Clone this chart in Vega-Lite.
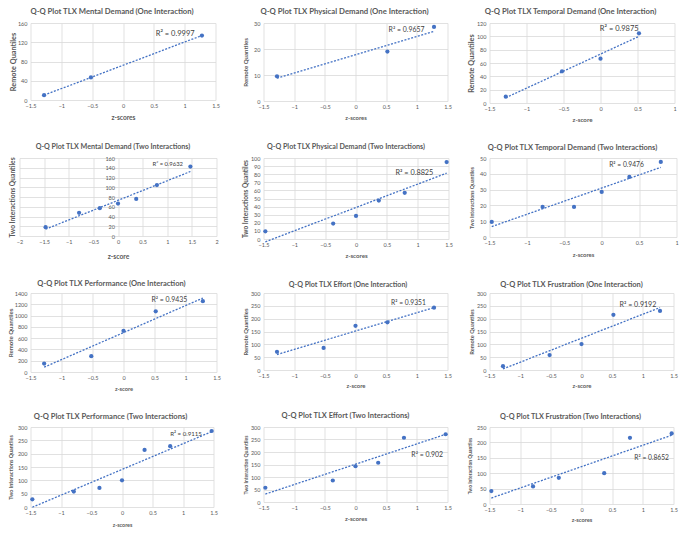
{
"$schema": "https://vega.github.io/schema/vega-lite/v6.json",
"background": "white",
"padding": {"left": 7.5, "top": 8, "right": 0, "bottom": 0},
"columns": 3,
"spacing": {"row": 20, "column": 15},
"concat": [
 {"width": 185, "height": 77,
  "title": {"text": "Q-Q Plot TLX Mental Demand  (One Interaction)", "fontSize": 7.7, "dx": -11, "offset": 5.15},
  "data": {"values": [{"z": -1.28, "q": 10}, {"z": -0.52, "q": 47}, {"z": 1.28, "q": 134}]},
  "layer": [
   {"transform": [{"regression": "q", "on": "z"}], "mark": {"type": "line", "strokeDash": [2, 1.5], "strokeWidth": 1.3, "color": "#4472C4"}, "encoding": {
    "x": {"field": "z", "type": "quantitative", "scale": {"domain": [-1.5, 1.5], "nice": false, "zero": false}, "axis": {"values": [-1.5, -1, -0.5, 0, 0.5, 1, 1.5], "format": ".1~f", "title": "z-scores", "titleFontSize": 6.6, "titleY": 17.3}},
    "y": {"field": "q", "type": "quantitative", "scale": {"domain": [0, 160], "nice": false}, "axis": {"values": [0, 40, 80, 120, 160], "format": "d", "title": "Remote Quantiles", "titleFontSize": 7.3, "titleX": -17.3}}}},
   {"mark": {"type": "circle", "size": 18, "color": "#4472C4", "opacity": 1}, "encoding": {
    "x": {"field": "z", "type": "quantitative", "scale": {"domain": [-1.5, 1.5], "nice": false, "zero": false}, "axis": {"values": [-1.5, -1, -0.5, 0, 0.5, 1, 1.5], "format": ".1~f", "title": "z-scores", "titleFontSize": 6.6, "titleY": 17.3}},
    "y": {"field": "q", "type": "quantitative", "scale": {"domain": [0, 160], "nice": false}, "axis": {"values": [0, 40, 80, 120, 160], "format": "d", "title": "Remote Quantiles", "titleFontSize": 7.3, "titleX": -17.3}}}},
   {"data": {"values": [{"t": "R² = 0.9997"}]}, "mark": {"type": "text", "align": "left", "baseline": "middle", "fontSize": 7.5, "color": "#404040"}, "encoding": {
    "x": {"datum": 0.53, "type": "quantitative", "scale": {"domain": [-1.5, 1.5], "nice": false, "zero": false}, "axis": {"values": [-1.5, -1, -0.5, 0, 0.5, 1, 1.5], "format": ".1~f", "title": "z-scores", "titleFontSize": 6.6, "titleY": 17.3}},
    "y": {"datum": 138, "type": "quantitative", "scale": {"domain": [0, 160], "nice": false}, "axis": {"values": [0, 40, 80, 120, 160], "format": "d", "title": "Remote Quantiles", "titleFontSize": 7.3, "titleX": -17.3}},
    "text": {"field": "t", "type": "nominal"}}}
  ]},
 {"width": 184, "height": 78,
  "title": {"text": "Q-Q Plot TLX Physical Demand (One Interaction)", "fontSize": 7.75, "dx": -11, "offset": 5.1},
  "data": {"values": [{"z": -1.28, "q": 9.5}, {"z": 0.52, "q": 19}, {"z": 1.28, "q": 28.5}]},
  "layer": [
   {"transform": [{"regression": "q", "on": "z"}], "mark": {"type": "line", "strokeDash": [2, 1.5], "strokeWidth": 1.3, "color": "#4472C4"}, "encoding": {
    "x": {"field": "z", "type": "quantitative", "scale": {"domain": [-1.5, 1.5], "nice": false, "zero": false}, "axis": {"values": [-1.5, -1, -0.5, 0, 0.5, 1, 1.5], "format": ".1~f", "title": "z-scores", "titleFontSize": 5.9, "titleY": 16.3}},
    "y": {"field": "q", "type": "quantitative", "scale": {"domain": [0, 30], "nice": false}, "axis": {"values": [0, 10, 20, 30], "format": "d", "title": "Remote Quantiles", "titleFontSize": 6.1, "titleX": -18}}}},
   {"mark": {"type": "circle", "size": 18, "color": "#4472C4", "opacity": 1}, "encoding": {
    "x": {"field": "z", "type": "quantitative", "scale": {"domain": [-1.5, 1.5], "nice": false, "zero": false}, "axis": {"values": [-1.5, -1, -0.5, 0, 0.5, 1, 1.5], "format": ".1~f", "title": "z-scores", "titleFontSize": 5.9, "titleY": 16.3}},
    "y": {"field": "q", "type": "quantitative", "scale": {"domain": [0, 30], "nice": false}, "axis": {"values": [0, 10, 20, 30], "format": "d", "title": "Remote Quantiles", "titleFontSize": 6.1, "titleX": -18}}}},
   {"data": {"values": [{"t": "R² = 0.9657"}]}, "mark": {"type": "text", "align": "left", "baseline": "middle", "fontSize": 6.9, "color": "#404040"}, "encoding": {
    "x": {"datum": 0.54, "type": "quantitative", "scale": {"domain": [-1.5, 1.5], "nice": false, "zero": false}, "axis": {"values": [-1.5, -1, -0.5, 0, 0.5, 1, 1.5], "format": ".1~f", "title": "z-scores", "titleFontSize": 5.9, "titleY": 16.3}},
    "y": {"datum": 27.3, "type": "quantitative", "scale": {"domain": [0, 30], "nice": false}, "axis": {"values": [0, 10, 20, 30], "format": "d", "title": "Remote Quantiles", "titleFontSize": 6.1, "titleX": -18}},
    "text": {"field": "t", "type": "nominal"}}}
  ]},
 {"width": 185, "height": 80,
  "title": {"text": "Q-Q Plot TLX Temporal Demand (One Interaction)", "fontSize": 7.75, "dx": -11.5, "offset": 5.1},
  "data": {"values": [{"z": -1.28, "q": 9.5}, {"z": -0.52, "q": 47.5}, {"z": 0, "q": 66.5}, {"z": 0.52, "q": 104.5}]},
  "layer": [
   {"transform": [{"regression": "q", "on": "z"}], "mark": {"type": "line", "strokeDash": [2, 1.5], "strokeWidth": 1.3, "color": "#4472C4"}, "encoding": {
    "x": {"field": "z", "type": "quantitative", "scale": {"domain": [-1.5, 1], "nice": false, "zero": false}, "axis": {"values": [-1.5, -1, -0.5, 0, 0.5, 1], "format": ".1~f", "title": "z-score", "titleFontSize": 6.2, "titleY": 16}},
    "y": {"field": "q", "type": "quantitative", "scale": {"domain": [0, 120], "nice": false}, "axis": {"values": [0, 20, 40, 60, 80, 100, 120], "format": "d", "title": "Remote Quantiles", "titleFontSize": 7.3, "titleX": -18}}}},
   {"mark": {"type": "circle", "size": 18, "color": "#4472C4", "opacity": 1}, "encoding": {
    "x": {"field": "z", "type": "quantitative", "scale": {"domain": [-1.5, 1], "nice": false, "zero": false}, "axis": {"values": [-1.5, -1, -0.5, 0, 0.5, 1], "format": ".1~f", "title": "z-score", "titleFontSize": 6.2, "titleY": 16}},
    "y": {"field": "q", "type": "quantitative", "scale": {"domain": [0, 120], "nice": false}, "axis": {"values": [0, 20, 40, 60, 80, 100, 120], "format": "d", "title": "Remote Quantiles", "titleFontSize": 7.3, "titleX": -18}}}},
   {"data": {"values": [{"t": "R² = 0.9875"}]}, "mark": {"type": "text", "align": "left", "baseline": "middle", "fontSize": 7.5, "color": "#404040"}, "encoding": {
    "x": {"datum": -0.01, "type": "quantitative", "scale": {"domain": [-1.5, 1], "nice": false, "zero": false}, "axis": {"values": [-1.5, -1, -0.5, 0, 0.5, 1], "format": ".1~f", "title": "z-score", "titleFontSize": 6.2, "titleY": 16}},
    "y": {"datum": 111, "type": "quantitative", "scale": {"domain": [0, 120], "nice": false}, "axis": {"values": [0, 20, 40, 60, 80, 100, 120], "format": "d", "title": "Remote Quantiles", "titleFontSize": 7.3, "titleX": -18}},
    "text": {"field": "t", "type": "nominal"}}}
  ]},
 {"width": 186, "height": 78,
  "title": {"text": "Q-Q Plot TLX Mental Demand (Two Interactions)", "fontSize": 7.15, "dx": -10.5, "offset": 5.4},
  "data": {"values": [{"z": -1.47, "q": 18}, {"z": -0.79, "q": 47.5}, {"z": -0.37, "q": 57}, {"z": 0, "q": 66.5}, {"z": 0.37, "q": 76}, {"z": 0.79, "q": 104.5}, {"z": 1.47, "q": 142.5}]},
  "layer": [
   {"transform": [{"regression": "q", "on": "z"}], "mark": {"type": "line", "strokeDash": [2, 1.5], "strokeWidth": 1.3, "color": "#4472C4"}, "encoding": {
    "x": {"field": "z", "type": "quantitative", "scale": {"domain": [-2, 2], "nice": false, "zero": false, "range": [-11, 186]}, "axis": {"values": [-2, -1.5, -1, -0.5, 0, 0.5, 1, 1.5, 2], "format": ".1~f", "title": "z-score", "titleFontSize": 6.7, "titleY": 20}},
    "y": {"field": "q", "type": "quantitative", "scale": {"domain": [0, 160], "nice": false}, "axis": {"values": [0, 20, 40, 60, 80, 100, 120, 140, 160], "format": "d", "title": "Two Interactions Quantiles", "titleFontSize": 6.7, "offset": -87.5, "titleX": -105.5}}}},
   {"mark": {"type": "circle", "size": 18, "color": "#4472C4", "opacity": 1}, "encoding": {
    "x": {"field": "z", "type": "quantitative", "scale": {"domain": [-2, 2], "nice": false, "zero": false, "range": [-11, 186]}, "axis": {"values": [-2, -1.5, -1, -0.5, 0, 0.5, 1, 1.5, 2], "format": ".1~f", "title": "z-score", "titleFontSize": 6.7, "titleY": 20}},
    "y": {"field": "q", "type": "quantitative", "scale": {"domain": [0, 160], "nice": false}, "axis": {"values": [0, 20, 40, 60, 80, 100, 120, 140, 160], "format": "d", "title": "Two Interactions Quantiles", "titleFontSize": 6.7, "offset": -87.5, "titleX": -105.5}}}},
   {"data": {"values": [{"t": "R² = 0.9632"}]}, "mark": {"type": "text", "align": "left", "baseline": "middle", "fontSize": 5.9, "color": "#404040"}, "encoding": {
    "x": {"datum": 0.7, "type": "quantitative", "scale": {"domain": [-2, 2], "nice": false, "zero": false, "range": [-11, 186]}, "axis": {"values": [-2, -1.5, -1, -0.5, 0, 0.5, 1, 1.5, 2], "format": ".1~f", "title": "z-score", "titleFontSize": 6.7, "titleY": 20}},
    "y": {"datum": 148, "type": "quantitative", "scale": {"domain": [0, 160], "nice": false}, "axis": {"values": [0, 20, 40, 60, 80, 100, 120, 140, 160], "format": "d", "title": "Two Interactions Quantiles", "titleFontSize": 6.7, "offset": -87.5, "titleX": -105.5}},
    "text": {"field": "t", "type": "nominal"}}}
  ]},
 {"width": 185, "height": 81,
  "title": {"text": "Q-Q Plot TLX Physical Demand (Two Interactions)", "fontSize": 7.15, "dx": -10, "offset": 5.4},
  "data": {"values": [{"z": -1.47, "q": 9.5}, {"z": -0.37, "q": 19}, {"z": 0, "q": 28.5}, {"z": 0.37, "q": 47.5}, {"z": 0.79, "q": 57}, {"z": 1.47, "q": 95}]},
  "layer": [
   {"transform": [{"regression": "q", "on": "z"}], "mark": {"type": "line", "strokeDash": [2, 1.5], "strokeWidth": 1.3, "color": "#4472C4"}, "encoding": {
    "x": {"field": "z", "type": "quantitative", "scale": {"domain": [-1.5, 1.5], "nice": false, "zero": false}, "axis": {"values": [-1.5, -1, -0.5, 0, 0.5, 1, 1.5], "format": ".1~f", "title": "z-scores", "titleFontSize": 6.1, "titleY": 16.3}},
    "y": {"field": "q", "type": "quantitative", "scale": {"domain": [0, 100], "nice": false}, "axis": {"values": [0, 10, 20, 30, 40, 50, 60, 70, 80, 90, 100], "format": "d", "title": "Two Interactions Quantiles", "titleFontSize": 6.5, "titleX": -18}}}},
   {"mark": {"type": "circle", "size": 18, "color": "#4472C4", "opacity": 1}, "encoding": {
    "x": {"field": "z", "type": "quantitative", "scale": {"domain": [-1.5, 1.5], "nice": false, "zero": false}, "axis": {"values": [-1.5, -1, -0.5, 0, 0.5, 1, 1.5], "format": ".1~f", "title": "z-scores", "titleFontSize": 6.1, "titleY": 16.3}},
    "y": {"field": "q", "type": "quantitative", "scale": {"domain": [0, 100], "nice": false}, "axis": {"values": [0, 10, 20, 30, 40, 50, 60, 70, 80, 90, 100], "format": "d", "title": "Two Interactions Quantiles", "titleFontSize": 6.5, "titleX": -18}}}},
   {"data": {"values": [{"t": "R² = 0.8825"}]}, "mark": {"type": "text", "align": "left", "baseline": "middle", "fontSize": 7.3, "color": "#404040"}, "encoding": {
    "x": {"datum": 0.64, "type": "quantitative", "scale": {"domain": [-1.5, 1.5], "nice": false, "zero": false}, "axis": {"values": [-1.5, -1, -0.5, 0, 0.5, 1, 1.5], "format": ".1~f", "title": "z-scores", "titleFontSize": 6.1, "titleY": 16.3}},
    "y": {"datum": 82, "type": "quantitative", "scale": {"domain": [0, 100], "nice": false}, "axis": {"values": [0, 10, 20, 30, 40, 50, 60, 70, 80, 90, 100], "format": "d", "title": "Two Interactions Quantiles", "titleFontSize": 6.5, "titleX": -18}},
    "text": {"field": "t", "type": "nominal"}}}
  ]},
 {"width": 187, "height": 79,
  "title": {"text": "Q-Q Plot TLX Temporal Demand (Two Interactions)", "fontSize": 7.5, "dx": -10.5, "offset": 4.25},
  "data": {"values": [{"z": -1.47, "q": 9.5}, {"z": -0.79, "q": 19}, {"z": -0.37, "q": 19}, {"z": 0, "q": 28.5}, {"z": 0.37, "q": 38}, {"z": 0.79, "q": 47.5}]},
  "layer": [
   {"transform": [{"regression": "q", "on": "z"}], "mark": {"type": "line", "strokeDash": [2, 1.5], "strokeWidth": 1.3, "color": "#4472C4"}, "encoding": {
    "x": {"field": "z", "type": "quantitative", "scale": {"domain": [-1.5, 1], "nice": false, "zero": false}, "axis": {"values": [-1.5, -1, -0.5, 0, 0.5, 1], "format": ".1~f", "title": "z-scores", "titleFontSize": 5.9, "titleY": 17.7}},
    "y": {"field": "q", "type": "quantitative", "scale": {"domain": [0, 50], "nice": false}, "axis": {"values": [0, 10, 20, 30, 40, 50], "format": "d", "title": "Two Interactions Quantiles", "titleFontSize": 5.2, "titleX": -18}}}},
   {"mark": {"type": "circle", "size": 18, "color": "#4472C4", "opacity": 1}, "encoding": {
    "x": {"field": "z", "type": "quantitative", "scale": {"domain": [-1.5, 1], "nice": false, "zero": false}, "axis": {"values": [-1.5, -1, -0.5, 0, 0.5, 1], "format": ".1~f", "title": "z-scores", "titleFontSize": 5.9, "titleY": 17.7}},
    "y": {"field": "q", "type": "quantitative", "scale": {"domain": [0, 50], "nice": false}, "axis": {"values": [0, 10, 20, 30, 40, 50], "format": "d", "title": "Two Interactions Quantiles", "titleFontSize": 5.2, "titleX": -18}}}},
   {"data": {"values": [{"t": "R² = 0.9476"}]}, "mark": {"type": "text", "align": "left", "baseline": "middle", "fontSize": 6.7, "color": "#404040"}, "encoding": {
    "x": {"datum": 0.1, "type": "quantitative", "scale": {"domain": [-1.5, 1], "nice": false, "zero": false}, "axis": {"values": [-1.5, -1, -0.5, 0, 0.5, 1], "format": ".1~f", "title": "z-scores", "titleFontSize": 5.9, "titleY": 17.7}},
    "y": {"datum": 45.5, "type": "quantitative", "scale": {"domain": [0, 50], "nice": false}, "axis": {"values": [0, 10, 20, 30, 40, 50], "format": "d", "title": "Two Interactions Quantiles", "titleFontSize": 5.2, "titleX": -18}},
    "text": {"field": "t", "type": "nominal"}}}
  ]},
 {"width": 186, "height": 79,
  "title": {"text": "Q-Q Plot TLX Performance (One Interaction)", "fontSize": 7.5, "dx": -12, "offset": 3.25},
  "data": {"values": [{"z": -1.28, "q": 150}, {"z": -0.52, "q": 280}, {"z": 0, "q": 730}, {"z": 0.52, "q": 1075}, {"z": 1.28, "q": 1255}]},
  "layer": [
   {"transform": [{"regression": "q", "on": "z"}], "mark": {"type": "line", "strokeDash": [2, 1.5], "strokeWidth": 1.3, "color": "#4472C4"}, "encoding": {
    "x": {"field": "z", "type": "quantitative", "scale": {"domain": [-1.5, 1.5], "nice": false, "zero": false}, "axis": {"values": [-1.5, -1, -0.5, 0, 0.5, 1, 1.5], "format": ".1~f", "title": "z-score", "titleFontSize": 5.7, "titleY": 16.7}},
    "y": {"field": "q", "type": "quantitative", "scale": {"domain": [0, 1400], "nice": false}, "axis": {"values": [0, 200, 400, 600, 800, 1000, 1200, 1400], "format": "d", "title": "Remote Quantiles", "titleFontSize": 6.1, "titleX": -19.7}}}},
   {"mark": {"type": "circle", "size": 18, "color": "#4472C4", "opacity": 1}, "encoding": {
    "x": {"field": "z", "type": "quantitative", "scale": {"domain": [-1.5, 1.5], "nice": false, "zero": false}, "axis": {"values": [-1.5, -1, -0.5, 0, 0.5, 1, 1.5], "format": ".1~f", "title": "z-score", "titleFontSize": 5.7, "titleY": 16.7}},
    "y": {"field": "q", "type": "quantitative", "scale": {"domain": [0, 1400], "nice": false}, "axis": {"values": [0, 200, 400, 600, 800, 1000, 1200, 1400], "format": "d", "title": "Remote Quantiles", "titleFontSize": 6.1, "titleX": -19.7}}}},
   {"data": {"values": [{"t": "R² = 0.9435"}]}, "mark": {"type": "text", "align": "left", "baseline": "middle", "fontSize": 6.9, "color": "#404040"}, "encoding": {
    "x": {"datum": 0.45, "type": "quantitative", "scale": {"domain": [-1.5, 1.5], "nice": false, "zero": false}, "axis": {"values": [-1.5, -1, -0.5, 0, 0.5, 1, 1.5], "format": ".1~f", "title": "z-score", "titleFontSize": 5.7, "titleY": 16.7}},
    "y": {"datum": 1276, "type": "quantitative", "scale": {"domain": [0, 1400], "nice": false}, "axis": {"values": [0, 200, 400, 600, 800, 1000, 1200, 1400], "format": "d", "title": "Remote Quantiles", "titleFontSize": 6.1, "titleX": -19.7}},
    "text": {"field": "t", "type": "nominal"}}}
  ]},
 {"width": 184, "height": 77,
  "title": {"text": "Q-Q Plot TLX Effort (One Interaction)", "fontSize": 7.15, "dx": -7.5, "offset": 2.7},
  "data": {"values": [{"z": -1.28, "q": 71}, {"z": -0.52, "q": 86}, {"z": 0, "q": 172}, {"z": 0.52, "q": 186}, {"z": 1.28, "q": 243}]},
  "layer": [
   {"transform": [{"regression": "q", "on": "z"}], "mark": {"type": "line", "strokeDash": [2, 1.5], "strokeWidth": 1.3, "color": "#4472C4"}, "encoding": {
    "x": {"field": "z", "type": "quantitative", "scale": {"domain": [-1.5, 1.5], "nice": false, "zero": false}, "axis": {"values": [-1.5, -1, -0.5, 0, 0.5, 1, 1.5], "format": ".1~f", "title": "z-score", "titleFontSize": 5.9, "titleY": 15.3}},
    "y": {"field": "q", "type": "quantitative", "scale": {"domain": [0, 300], "nice": false}, "axis": {"values": [0, 50, 100, 150, 200, 250, 300], "format": "d", "title": "Remote Quantiles", "titleFontSize": 5.9, "titleX": -18}}}},
   {"mark": {"type": "circle", "size": 18, "color": "#4472C4", "opacity": 1}, "encoding": {
    "x": {"field": "z", "type": "quantitative", "scale": {"domain": [-1.5, 1.5], "nice": false, "zero": false}, "axis": {"values": [-1.5, -1, -0.5, 0, 0.5, 1, 1.5], "format": ".1~f", "title": "z-score", "titleFontSize": 5.9, "titleY": 15.3}},
    "y": {"field": "q", "type": "quantitative", "scale": {"domain": [0, 300], "nice": false}, "axis": {"values": [0, 50, 100, 150, 200, 250, 300], "format": "d", "title": "Remote Quantiles", "titleFontSize": 5.9, "titleX": -18}}}},
   {"data": {"values": [{"t": "R² = 0.9351"}]}, "mark": {"type": "text", "align": "left", "baseline": "middle", "fontSize": 6.7, "color": "#404040"}, "encoding": {
    "x": {"datum": 0.58, "type": "quantitative", "scale": {"domain": [-1.5, 1.5], "nice": false, "zero": false}, "axis": {"values": [-1.5, -1, -0.5, 0, 0.5, 1, 1.5], "format": ".1~f", "title": "z-score", "titleFontSize": 5.9, "titleY": 15.3}},
    "y": {"datum": 260, "type": "quantitative", "scale": {"domain": [0, 300], "nice": false}, "axis": {"values": [0, 50, 100, 150, 200, 250, 300], "format": "d", "title": "Remote Quantiles", "titleFontSize": 5.9, "titleX": -18}},
    "text": {"field": "t", "type": "nominal"}}}
  ]},
 {"width": 184, "height": 77,
  "title": {"text": "Q-Q Plot TLX Frustration (One Interaction)", "fontSize": 7.5, "dx": -10, "offset": 2.55},
  "data": {"values": [{"z": -1.28, "q": 15}, {"z": -0.52, "q": 58}, {"z": 0, "q": 101}, {"z": 0.52, "q": 215}, {"z": 1.28, "q": 230}]},
  "layer": [
   {"transform": [{"regression": "q", "on": "z"}], "mark": {"type": "line", "strokeDash": [2, 1.5], "strokeWidth": 1.3, "color": "#4472C4"}, "encoding": {
    "x": {"field": "z", "type": "quantitative", "scale": {"domain": [-1.5, 1.5], "nice": false, "zero": false}, "axis": {"values": [-1.5, -1, -0.5, 0, 0.5, 1, 1.5], "format": ".1~f", "title": "z-score", "titleFontSize": 5.9, "titleY": 15.3}},
    "y": {"field": "q", "type": "quantitative", "scale": {"domain": [0, 300], "nice": false}, "axis": {"values": [0, 50, 100, 150, 200, 250, 300], "format": "d", "title": "Remote Quantiles", "titleFontSize": 5.7, "titleX": -18}}}},
   {"mark": {"type": "circle", "size": 18, "color": "#4472C4", "opacity": 1}, "encoding": {
    "x": {"field": "z", "type": "quantitative", "scale": {"domain": [-1.5, 1.5], "nice": false, "zero": false}, "axis": {"values": [-1.5, -1, -0.5, 0, 0.5, 1, 1.5], "format": ".1~f", "title": "z-score", "titleFontSize": 5.9, "titleY": 15.3}},
    "y": {"field": "q", "type": "quantitative", "scale": {"domain": [0, 300], "nice": false}, "axis": {"values": [0, 50, 100, 150, 200, 250, 300], "format": "d", "title": "Remote Quantiles", "titleFontSize": 5.7, "titleX": -18}}}},
   {"data": {"values": [{"t": "R² = 0.9192"}]}, "mark": {"type": "text", "align": "left", "baseline": "middle", "fontSize": 7.1, "color": "#404040"}, "encoding": {
    "x": {"datum": 0.62, "type": "quantitative", "scale": {"domain": [-1.5, 1.5], "nice": false, "zero": false}, "axis": {"values": [-1.5, -1, -0.5, 0, 0.5, 1, 1.5], "format": ".1~f", "title": "z-score", "titleFontSize": 5.9, "titleY": 15.3}},
    "y": {"datum": 252, "type": "quantitative", "scale": {"domain": [0, 300], "nice": false}, "axis": {"values": [0, 50, 100, 150, 200, 250, 300], "format": "d", "title": "Remote Quantiles", "titleFontSize": 5.7, "titleX": -18}},
    "text": {"field": "t", "type": "nominal"}}}
  ]},
 {"width": 183, "height": 80,
  "title": {"text": "Q-Q Plot TLX Performance (Two Interactions)", "fontSize": 7.6, "dx": -11.5, "offset": 4.2},
  "data": {"values": [{"z": -1.47, "q": 29}, {"z": -0.79, "q": 58}, {"z": -0.37, "q": 71.5}, {"z": 0, "q": 100}, {"z": 0.37, "q": 214}, {"z": 0.79, "q": 228}, {"z": 1.47, "q": 285}]},
  "layer": [
   {"transform": [{"regression": "q", "on": "z"}], "mark": {"type": "line", "strokeDash": [2, 1.5], "strokeWidth": 1.3, "color": "#4472C4"}, "encoding": {
    "x": {"field": "z", "type": "quantitative", "scale": {"domain": [-1.5, 1.5], "nice": false, "zero": false}, "axis": {"values": [-1.5, -1, -0.5, 0, 0.5, 1, 1.5], "format": ".1~f", "title": "z-scores", "titleFontSize": 5.4, "titleY": 17.7}},
    "y": {"field": "q", "type": "quantitative", "scale": {"domain": [0, 300], "nice": false}, "axis": {"values": [0, 50, 100, 150, 200, 250, 300], "format": "d", "title": "Two Interactions Quantiles", "titleFontSize": 5.4, "titleX": -19.7}}}},
   {"mark": {"type": "circle", "size": 18, "color": "#4472C4", "opacity": 1}, "encoding": {
    "x": {"field": "z", "type": "quantitative", "scale": {"domain": [-1.5, 1.5], "nice": false, "zero": false}, "axis": {"values": [-1.5, -1, -0.5, 0, 0.5, 1, 1.5], "format": ".1~f", "title": "z-scores", "titleFontSize": 5.4, "titleY": 17.7}},
    "y": {"field": "q", "type": "quantitative", "scale": {"domain": [0, 300], "nice": false}, "axis": {"values": [0, 50, 100, 150, 200, 250, 300], "format": "d", "title": "Two Interactions Quantiles", "titleFontSize": 5.4, "titleX": -19.7}}}},
   {"data": {"values": [{"t": "R² = 0.9115"}]}, "mark": {"type": "text", "align": "left", "baseline": "middle", "fontSize": 6.1, "color": "#404040"}, "encoding": {
    "x": {"datum": 0.79, "type": "quantitative", "scale": {"domain": [-1.5, 1.5], "nice": false, "zero": false}, "axis": {"values": [-1.5, -1, -0.5, 0, 0.5, 1, 1.5], "format": ".1~f", "title": "z-scores", "titleFontSize": 5.4, "titleY": 17.7}},
    "y": {"datum": 275, "type": "quantitative", "scale": {"domain": [0, 300], "nice": false}, "axis": {"values": [0, 50, 100, 150, 200, 250, 300], "format": "d", "title": "Two Interactions Quantiles", "titleFontSize": 5.4, "titleX": -19.7}},
    "text": {"field": "t", "type": "nominal"}}}
  ]},
 {"width": 184, "height": 75,
  "title": {"text": "Q-Q Plot TLX Effort (Two Interactions)", "fontSize": 7.5, "dx": -10, "offset": 5.25},
  "data": {"values": [{"z": -1.47, "q": 57}, {"z": -0.37, "q": 86}, {"z": 0, "q": 143}, {"z": 0.37, "q": 157}, {"z": 0.79, "q": 257}, {"z": 1.47, "q": 271}]},
  "layer": [
   {"transform": [{"regression": "q", "on": "z"}], "mark": {"type": "line", "strokeDash": [2, 1.5], "strokeWidth": 1.3, "color": "#4472C4"}, "encoding": {
    "x": {"field": "z", "type": "quantitative", "scale": {"domain": [-1.5, 1.5], "nice": false, "zero": false}, "axis": {"values": [-1.5, -1, -0.5, 0, 0.5, 1, 1.5], "format": ".1~f", "title": "z-scores", "titleFontSize": 6.1, "titleY": 16}},
    "y": {"field": "q", "type": "quantitative", "scale": {"domain": [0, 300], "nice": false}, "axis": {"values": [0, 50, 100, 150, 200, 250, 300], "format": "d", "title": "Two Interaction Quantiles", "titleFontSize": 5.1, "titleX": -18}}}},
   {"mark": {"type": "circle", "size": 18, "color": "#4472C4", "opacity": 1}, "encoding": {
    "x": {"field": "z", "type": "quantitative", "scale": {"domain": [-1.5, 1.5], "nice": false, "zero": false}, "axis": {"values": [-1.5, -1, -0.5, 0, 0.5, 1, 1.5], "format": ".1~f", "title": "z-scores", "titleFontSize": 6.1, "titleY": 16}},
    "y": {"field": "q", "type": "quantitative", "scale": {"domain": [0, 300], "nice": false}, "axis": {"values": [0, 50, 100, 150, 200, 250, 300], "format": "d", "title": "Two Interaction Quantiles", "titleFontSize": 5.1, "titleX": -18}}}},
   {"data": {"values": [{"t": "R² = 0.902"}]}, "mark": {"type": "text", "align": "left", "baseline": "middle", "fontSize": 6.9, "color": "#404040"}, "encoding": {
    "x": {"datum": 0.91, "type": "quantitative", "scale": {"domain": [-1.5, 1.5], "nice": false, "zero": false}, "axis": {"values": [-1.5, -1, -0.5, 0, 0.5, 1, 1.5], "format": ".1~f", "title": "z-scores", "titleFontSize": 6.1, "titleY": 16}},
    "y": {"datum": 187, "type": "quantitative", "scale": {"domain": [0, 300], "nice": false}, "axis": {"values": [0, 50, 100, 150, 200, 250, 300], "format": "d", "title": "Two Interaction Quantiles", "titleFontSize": 5.1, "titleX": -18}},
    "text": {"field": "t", "type": "nominal"}}}
  ]},
 {"width": 184, "height": 77,
  "title": {"text": "Q-Q Plot TLX Frustration (Two Interactions)", "fontSize": 7.25, "dx": -11, "offset": 4.4},
  "data": {"values": [{"z": -1.47, "q": 42}, {"z": -0.79, "q": 57}, {"z": -0.37, "q": 85}, {"z": 0.37, "q": 100}, {"z": 0.79, "q": 215}, {"z": 1.47, "q": 229}]},
  "layer": [
   {"transform": [{"regression": "q", "on": "z"}], "mark": {"type": "line", "strokeDash": [2, 1.5], "strokeWidth": 1.3, "color": "#4472C4"}, "encoding": {
    "x": {"field": "z", "type": "quantitative", "scale": {"domain": [-1.5, 1.5], "nice": false, "zero": false}, "axis": {"values": [-1.5, -1, -0.5, 0, 0.5, 1, 1.5], "format": ".1~f", "title": "z-scores", "titleFontSize": 5.7, "titleY": 15.3}},
    "y": {"field": "q", "type": "quantitative", "scale": {"domain": [0, 250], "nice": false}, "axis": {"values": [0, 50, 100, 150, 200, 250], "format": "d", "title": "Two Interaction Quantiles", "titleFontSize": 4.9, "titleX": -19}}}},
   {"mark": {"type": "circle", "size": 18, "color": "#4472C4", "opacity": 1}, "encoding": {
    "x": {"field": "z", "type": "quantitative", "scale": {"domain": [-1.5, 1.5], "nice": false, "zero": false}, "axis": {"values": [-1.5, -1, -0.5, 0, 0.5, 1, 1.5], "format": ".1~f", "title": "z-scores", "titleFontSize": 5.7, "titleY": 15.3}},
    "y": {"field": "q", "type": "quantitative", "scale": {"domain": [0, 250], "nice": false}, "axis": {"values": [0, 50, 100, 150, 200, 250], "format": "d", "title": "Two Interaction Quantiles", "titleFontSize": 4.9, "titleX": -19}}}},
   {"data": {"values": [{"t": "R² = 0.8652"}]}, "mark": {"type": "text", "align": "left", "baseline": "middle", "fontSize": 6.7, "color": "#404040"}, "encoding": {
    "x": {"datum": 0.86, "type": "quantitative", "scale": {"domain": [-1.5, 1.5], "nice": false, "zero": false}, "axis": {"values": [-1.5, -1, -0.5, 0, 0.5, 1, 1.5], "format": ".1~f", "title": "z-scores", "titleFontSize": 5.7, "titleY": 15.3}},
    "y": {"datum": 148, "type": "quantitative", "scale": {"domain": [0, 250], "nice": false}, "axis": {"values": [0, 50, 100, 150, 200, 250], "format": "d", "title": "Two Interaction Quantiles", "titleFontSize": 4.9, "titleX": -19}},
    "text": {"field": "t", "type": "nominal"}}}
  ]}
],
"config": {
 "view": {"stroke": null},
 "font": "Lato",
 "title": {"color": "#595959", "font": "Lato", "fontWeight": "bold", "anchor": "middle"},
 "text": {"font": "Lato"},
 "axis": {"grid": true, "gridColor": "#d9d9d9", "gridWidth": 0.8, "domain": false, "ticks": false, "labelColor": "#595959", "labelFontSize": 5.5, "labelFont": "Lato", "labelPadding": 3.5, "labelFlush": false, "labelOverlap": false, "titleColor": "#595959", "titleFont": "Lato", "titleFontWeight": "bold", "titleBaseline": "middle"}
}
}
